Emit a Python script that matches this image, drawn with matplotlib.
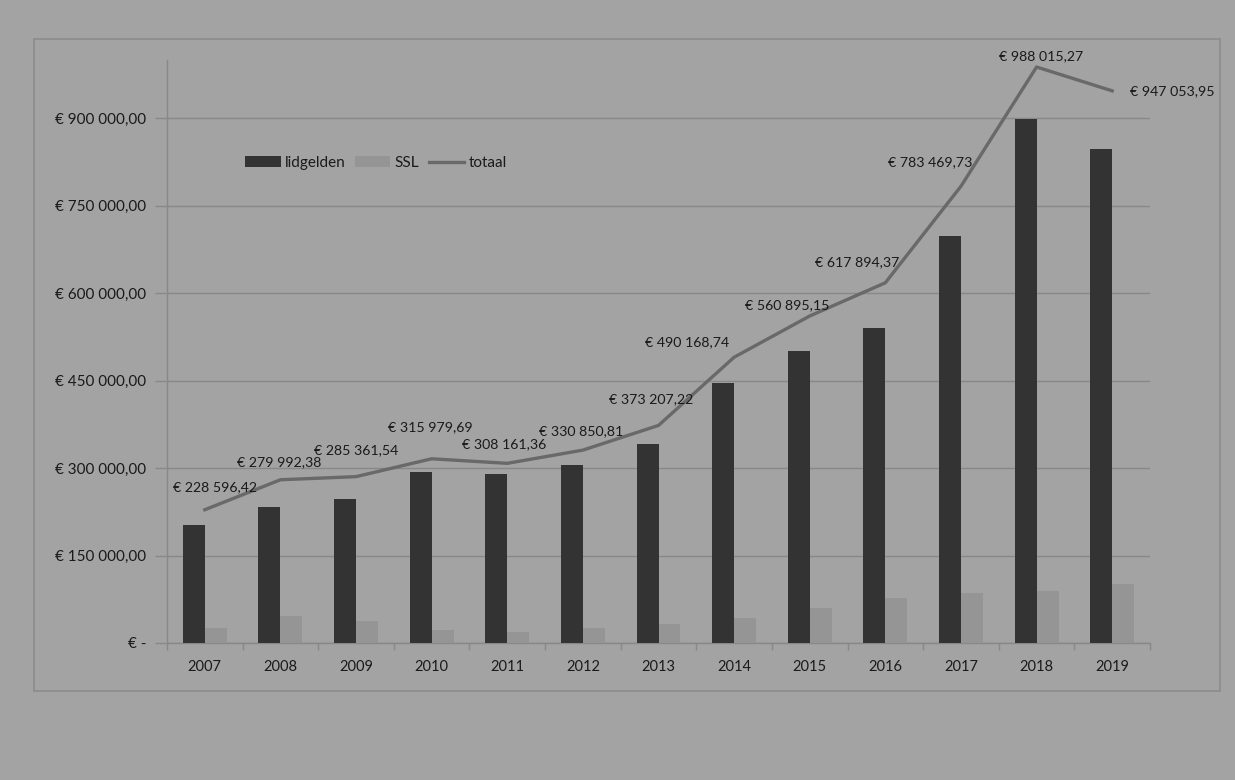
import matplotlib.pyplot as plt
from matplotlib.patches import Rectangle
import numpy as np

# Data
years = ["2007", "2008", "2009", "2010", "2011", "2012", "2013",
         "2014", "2015", "2016", "2017", "2018", "2019"]
lidgelden = [203000, 233000, 247500, 293000, 289500, 305500, 341000,
             446500, 501500, 540000, 698500, 899000, 846500]
ssl = [25600, 47000, 37900, 23000, 18700, 25300, 32000,
       43600, 59400, 77900, 85000, 89000, 100500]
totaal = [228596.42, 279992.38, 285361.54, 315979.69, 308161.36, 330850.81,
          373207.22, 490168.74, 560895.15, 617894.37, 783469.73, 988015.27,
          947053.95]

# label offsets (points) for the data labels of the totaal line
label_offsets = [(7, 16), (-1, 13), (0, 19), (-1, 23), (-2, 14), (-1, 14), (-5, 19),
                 (-34, 11), (-16, 8), (-20, 15), (-22, 17), (3, 8), (43, 0)]

BG = "#a3a3a3"
GRID = "#888888"
TXT = "#1a1a1a"

plt.rcParams['font.family'] = ['Lato', 'DejaVu Sans']


def euro(v):
    if v == 0:
        return "€ -"
    s = f"{v:,.2f}"
    whole, dec = s.split(".")
    return "€ " + whole.replace(",", " ") + "," + dec


fig = plt.figure(figsize=(12.35, 7.8), dpi=100, facecolor=BG)

# outer chart-area border
fig.patches.append(Rectangle((34 / 1235, 1 - 691 / 780), (1220 - 34) / 1235, (691 - 39) / 780,
                             transform=fig.transFigure, fill=False,
                             edgecolor="#8c8c8c", linewidth=1.2))

ax = fig.add_axes([167 / 1235, 1 - 643 / 780, (1150 - 167) / 1235, (643 - 60) / 780])
ax.set_facecolor(BG)

x = np.arange(len(years))
w = 0.29
b1 = ax.bar(x - w / 2, lidgelden, width=w, color="#333333", label="lidgelden", zorder=3)
b2 = ax.bar(x + w / 2, ssl, width=w, color="#959595", label="SSL", zorder=3)
l1, = ax.plot(x, totaal, color="#696969", linewidth=2.4, label="totaal", zorder=4)

for xi, v, off in zip(x, totaal, label_offsets):
    ax.annotate(euro(v), (xi, v), xytext=off, textcoords="offset points",
                ha="center", va="center", fontsize=10.2, color=TXT, zorder=5)

ax.set_xlim(-0.5, len(years) - 0.5)
ax.set_ylim(0, 1000000)
yt = [0, 150000, 300000, 450000, 600000, 750000, 900000]
ax.set_yticks(yt)
ax.set_yticklabels([euro(v) for v in yt])
ax.set_xticks(x)
ax.set_xticklabels(years)
ax.set_xticks(np.arange(len(years) + 1) - 0.5, minor=True)

ax.grid(axis="y", color=GRID, linewidth=1, zorder=0)
ax.tick_params(axis="y", length=9, width=1, color=GRID, pad=6, labelsize=11, labelcolor=TXT)
ax.tick_params(axis="x", which="major", length=0, pad=12, labelsize=10.5, labelcolor=TXT)
ax.tick_params(axis="x", which="minor", length=5, width=1, color=GRID)

for side in ["top", "right"]:
    ax.spines[side].set_visible(False)
for side in ["left", "bottom"]:
    ax.spines[side].set_color(GRID)
    ax.spines[side].set_linewidth(1)

ax.legend(handles=[b1, b2, l1], loc="center", bbox_to_anchor=(376 / 1235, 1 - 163 / 780),
          bbox_transform=fig.transFigure, ncol=3, frameon=False,
          fontsize=11, handlelength=2.3, handleheight=0.7,
          handletextpad=0.3, columnspacing=0.6, labelcolor=TXT)

plt.savefig("out.png", dpi=100, facecolor=BG)
